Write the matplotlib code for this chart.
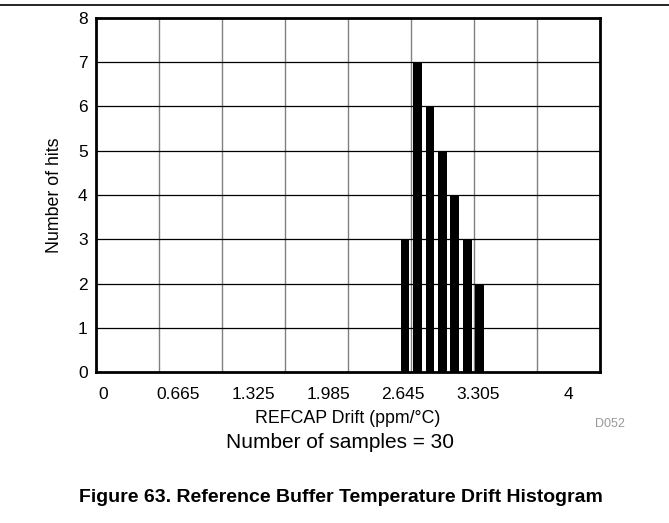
import numpy as np
import matplotlib
matplotlib.use('Agg')
import matplotlib.pyplot as plt
from matplotlib.lines import Line2D

plt.rcParams['font.family'] = ['Liberation Sans', 'DejaVu Sans']

# histogram data
drift_bins = [2.66, 2.77, 2.88, 2.99, 3.10, 3.21, 3.32]
hits = [3, 7, 6, 5, 4, 3, 2]
tick_labels = ['0', '0.665', '1.325', '1.985', '2.645', '3.305', '4']
tick_pos = [0, 0.665, 1.325, 1.985, 2.645, 3.305, 4.1]
n_samples = 30

fig = plt.figure(figsize=(6.69, 5.23), dpi=100)
ax = fig.add_axes([0.1435, 0.2887, 0.7534, 0.6769])

xmin, xmax = -0.062, 4.379
ax.set_xlim(xmin, xmax)
ax.set_ylim(0, 8)

# vertical grid: 8 equal divisions, gray
for gx in np.linspace(xmin, xmax, 9)[1:-1]:
    ax.axvline(gx, color='#808080', lw=1, zorder=1)
# horizontal grid: black
for gy in range(1, 8):
    ax.axhline(gy, color='black', lw=0.9, zorder=1)

ax.bar(drift_bins, hits, width=0.077, color='black', zorder=2)

ax.set_xticks(tick_pos)
ax.set_xticklabels(tick_labels)
ax.set_yticks(range(0, 9))
ax.tick_params(axis='both', length=0, labelsize=12.5)
ax.tick_params(axis='x', pad=11)
ax.tick_params(axis='y', pad=6)

for s in ax.spines.values():
    s.set_linewidth(2)
    s.set_zorder(3)

ax.set_xlabel('REFCAP Drift (ppm/°C)', fontsize=12.8)
ax.xaxis.set_label_coords(0.5, -0.107)
ax.set_ylabel('Number of hits', fontsize=12.8)
ax.yaxis.set_label_coords(-0.066, 0.5)

fig.text(610 / 669, 1 - 424 / 523, 'D052', color='#999999', fontsize=9, ha='center', va='center')
fig.text(340 / 669, 1 - 448 / 523, 'Number of samples = %d' % n_samples, fontsize=15, ha='center', va='baseline')
fig.text(341 / 669, 1 - 502 / 523, 'Figure 63. Reference Buffer Temperature Drift Histogram',
         fontsize=14, fontweight='bold', ha='center', va='baseline')

fig.add_artist(Line2D([0, 1], [1 - 5 / 523, 1 - 5 / 523], color='black', lw=1.2, transform=fig.transFigure))

fig.savefig('out.png', dpi=100)
